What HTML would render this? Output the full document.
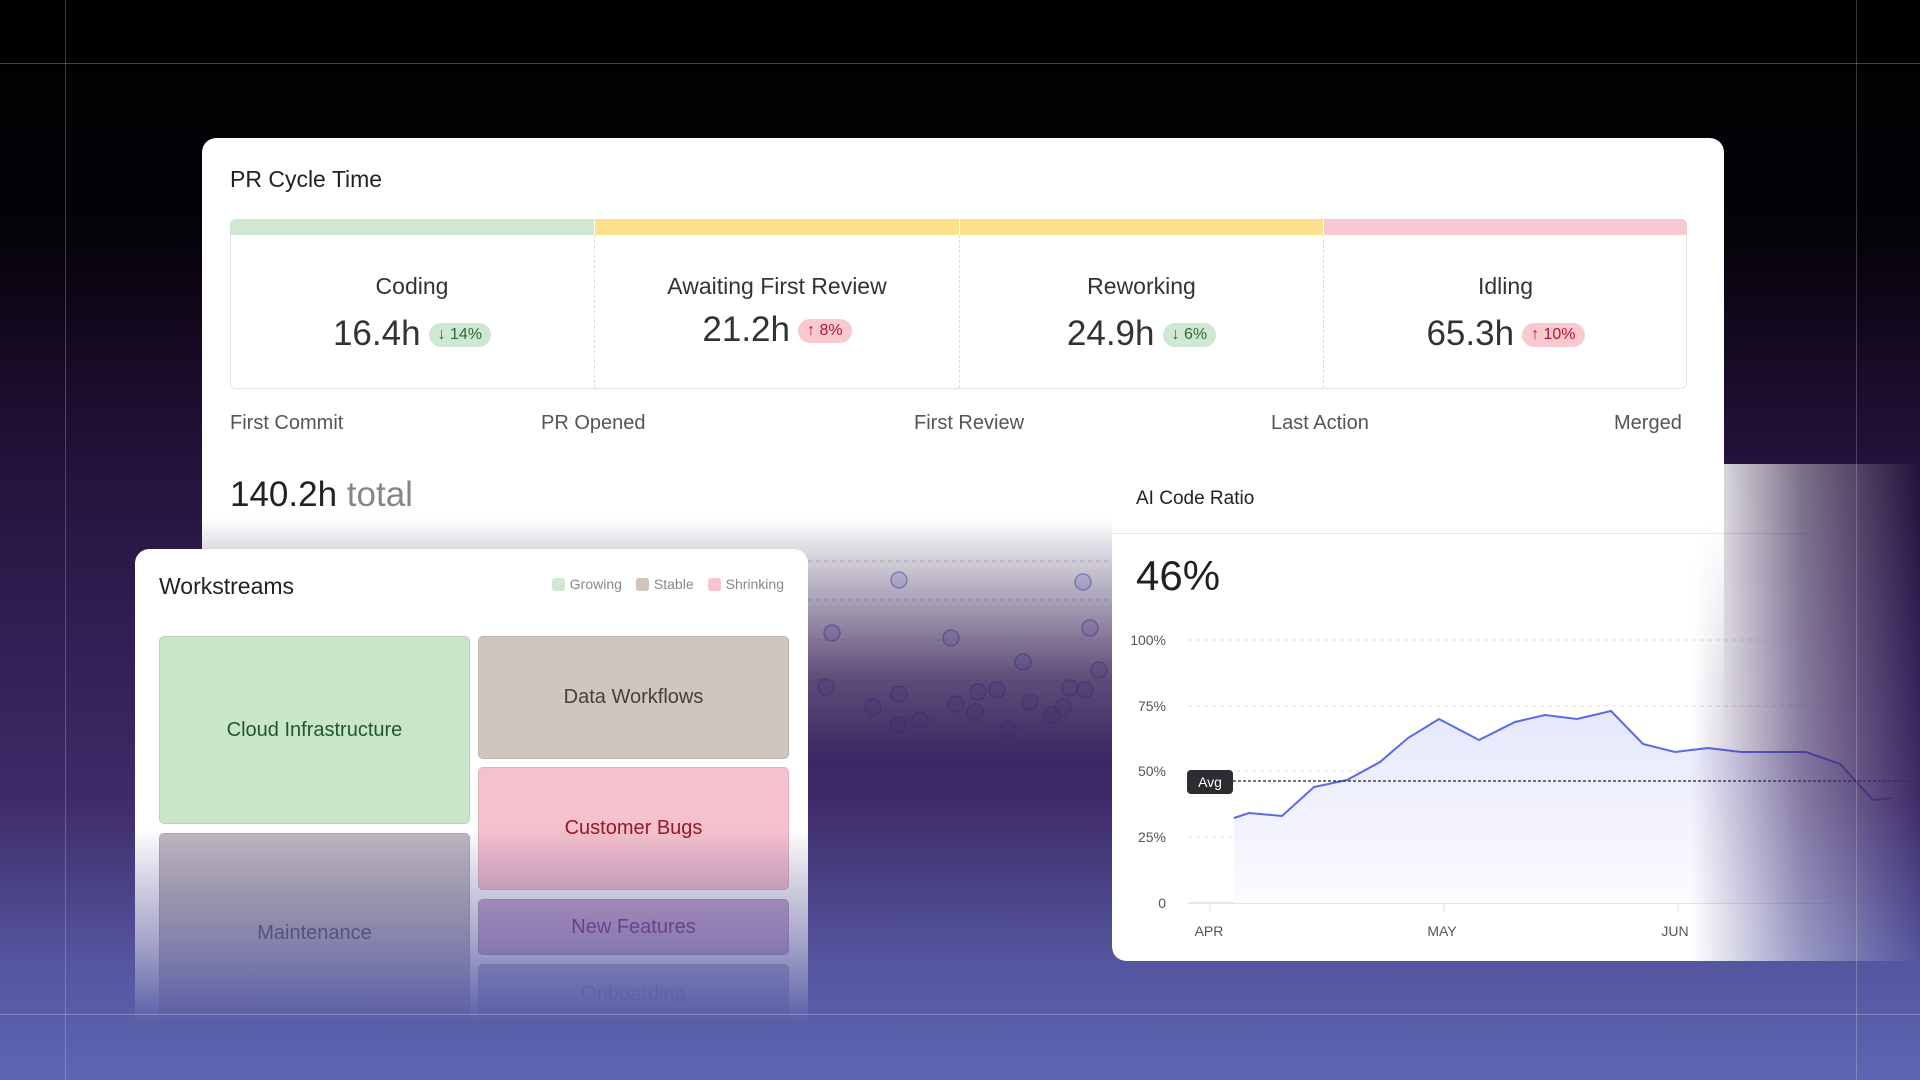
<!DOCTYPE html>
<html><head><meta charset="utf-8"><style>
*{margin:0;padding:0;box-sizing:border-box}
body{width:1920px;height:1080px;overflow:hidden;font-family:"Liberation Sans",sans-serif;position:relative;
background:linear-gradient(180deg,#000 0px,#050208 230px,#1f0f33 420px,#311d52 620px,#3f2b68 800px,#54559f 960px,#5d66b2 1080px)}
.abs{position:absolute}
.vl{position:absolute;top:0;width:1px;height:1080px;background:rgba(255,255,255,.22)}
.hl{position:absolute;left:0;height:1px;width:1920px;background:rgba(255,255,255,.25)}
.card{position:absolute;background:#fff;border-radius:14px}
#pr{left:202px;top:138px;width:1522px;height:720px;
-webkit-mask-image:linear-gradient(180deg,#000 0,#000 380px,rgba(0,0,0,.6) 460px,rgba(0,0,0,.2) 540px,transparent 620px);
mask-image:linear-gradient(180deg,#000 0,#000 380px,rgba(0,0,0,.6) 460px,rgba(0,0,0,.2) 540px,transparent 620px)}
.seg{position:absolute;top:81px;height:16px}
.stage{position:absolute;top:97px;height:153px;text-align:center;color:#333}
.stage .n{font-size:23px;margin-top:38px}
.stage .v{font-size:35px;margin-top:14px;color:#333}
.pill{display:inline-block;font-size:16px;padding:3px 9px;border-radius:14px;vertical-align:6px;margin-left:8px}
.g{background:#cfe8d2;color:#2d6b36}.r{background:#f9c9d1;color:#b0182e}
.ms{position:absolute;top:274px;font-size:20px;color:#555}
#ws{left:135px;top:549px;width:673px;height:480px;
-webkit-mask-image:linear-gradient(180deg,#000 0,#000 280px,rgba(0,0,0,.5) 390px,transparent 475px);
mask-image:linear-gradient(180deg,#000 0,#000 280px,rgba(0,0,0,.5) 390px,transparent 475px)}
.tm{position:absolute;border-radius:5px;display:flex;align-items:center;justify-content:center;font-size:20px;border:1px solid rgba(0,0,0,.08)}
.lg{display:inline-block;width:13px;height:13px;border-radius:3px;vertical-align:-2px;margin:0 5px 0 14px}
#ai{left:1112px;top:464px;width:808px;height:497px;border-radius:14px 0 0 14px;
-webkit-mask-image:linear-gradient(90deg,#000 0,#000 580px,rgba(0,0,0,.4) 690px,transparent 808px);
mask-image:linear-gradient(90deg,#000 0,#000 580px,rgba(0,0,0,.4) 690px,transparent 808px)}
</style></head><body>
<div class="vl" style="left:65px"></div><div class="vl" style="left:1856px"></div>
<div class="hl" style="top:63px"></div>

<div class="card" id="pr">
 <div class="abs" style="left:28px;top:28px;font-size:23px;color:#222">PR Cycle Time</div>
 <div class="abs" style="left:28px;top:81px;width:1457px;height:170px;border:1px solid #e3e3e3;border-radius:6px"></div>
 <div class="seg" style="left:28px;width:364px;background:#cfe8d2;border-radius:6px 0 0 0"></div>
 <div class="seg" style="left:393px;width:364px;background:#fde08e"></div>
 <div class="seg" style="left:758px;width:363px;background:#fde08e"></div>
 <div class="seg" style="left:1122px;width:363px;background:#f9c9d1;border-radius:0 6px 0 0"></div>
 <div class="abs" style="left:392px;top:97px;height:153px;border-left:1px dashed #ddd"></div>
 <div class="abs" style="left:757px;top:97px;height:153px;border-left:1px dashed #ddd"></div>
 <div class="abs" style="left:1121px;top:97px;height:153px;border-left:1px dashed #ddd"></div>
 <div class="stage" style="left:28px;width:364px"><div class="n">Coding</div><div class="v">16.4h<span class="pill g">↓ 14%</span></div></div>
 <div class="stage" style="left:393px;width:364px"><div class="n">Awaiting First Review</div><div class="v" style="margin-top:10px">21.2h<span class="pill r">↑ 8%</span></div></div>
 <div class="stage" style="left:758px;width:363px"><div class="n">Reworking</div><div class="v">24.9h<span class="pill g">↓ 6%</span></div></div>
 <div class="stage" style="left:1122px;width:363px"><div class="n">Idling</div><div class="v">65.3h<span class="pill r">↑ 10%</span></div></div>
 <div class="ms" style="left:28px">First Commit</div>
 <div class="ms" style="left:339px">PR Opened</div>
 <div class="ms" style="left:712px">First Review</div>
 <div class="ms" style="left:1069px">Last Action</div>
 <div class="ms" style="left:1412px">Merged</div>
 <div class="abs" style="left:28px;top:337px;font-size:35px;color:#222">140.2h <span style="color:#8a8580">total</span></div>
 <svg class="abs" style="left:0;top:0" width="1522" height="720" viewBox="202 138 1522 720">
  <g stroke="#ccc" stroke-dasharray="4 4"><line x1="808" y1="561" x2="1112" y2="561"/><line x1="808" y1="600" x2="1112" y2="600"/><line x1="808" y1="640" x2="1112" y2="640"/><line x1="808" y1="680" x2="1112" y2="680"/></g>
  <g fill="rgba(140,150,230,.25)" stroke="rgba(100,110,220,.6)" stroke-width="1.5">
   <circle cx="899" cy="580" r="8"/><circle cx="1083" cy="582" r="8"/><circle cx="832" cy="633" r="8"/><circle cx="951" cy="638" r="8"/><circle cx="1090" cy="628" r="8"/><circle cx="1023" cy="662" r="8"/><circle cx="1099" cy="670" r="8"/><circle cx="826" cy="687" r="8"/><circle cx="873" cy="707" r="8"/><circle cx="978" cy="692" r="8"/><circle cx="997" cy="690" r="8"/><circle cx="1030" cy="702" r="8"/><circle cx="1070" cy="688" r="8"/><circle cx="1063" cy="707" r="8"/><circle cx="899" cy="694" r="8"/><circle cx="920" cy="720" r="8"/><circle cx="975" cy="712" r="8"/><circle cx="1052" cy="715" r="8"/><circle cx="1008" cy="730" r="8"/><circle cx="898" cy="725" r="8"/><circle cx="956" cy="704" r="8"/><circle cx="1085" cy="690" r="8"/>
  </g>
 </svg>
</div>

<div class="card" id="ws">
 <div class="abs" style="left:24px;top:24px;font-size:23px;color:#222">Workstreams</div>
 <div class="abs" style="right:24px;top:27px;font-size:14px;color:#888"><span class="lg" style="background:#cfe8d2"></span>Growing<span class="lg" style="background:#cfc5bd"></span>Stable<span class="lg" style="background:#f9c4cf"></span>Shrinking</div>
 <div class="tm" style="left:24px;top:87px;width:311px;height:188px;background:#c9e6cb;color:#22572a">Cloud Infrastructure</div>
 <div class="tm" style="left:343px;top:87px;width:311px;height:123px;background:#cec6bf;color:#4a3f33">Data Workflows</div>
 <div class="tm" style="left:343px;top:218px;width:311px;height:123px;background:#f5c1cd;color:#9b1728">Customer Bugs</div>
 <div class="tm" style="left:24px;top:284px;width:311px;height:200px;background:#bdb9c0;color:#5a5670">Maintenance</div>
 <div class="tm" style="left:343px;top:350px;width:311px;height:56px;background:#c9a9cf;color:#7a3f7a">New Features</div>
 <div class="tm" style="left:343px;top:415px;width:311px;height:60px;background:#b7b9d6;color:#8a8ab5">Onboarding</div>
</div>

<div class="card" id="ai">
 <div class="abs" style="left:24px;top:24px;font-size:19px;color:#222">AI Code Ratio</div>
 <div class="abs" style="left:0;top:69px;width:700px;border-top:1px solid #e6e6e6"></div>
 <div class="abs" style="left:24px;top:88px;font-size:42px;color:#222">46%</div>
 <svg class="abs" style="left:0;top:0" width="808" height="497" viewBox="1112 464 808 497" font-family="Liberation Sans, sans-serif">
  <g stroke="#ddd" stroke-dasharray="4 4"><line x1="1188" y1="640" x2="1920" y2="640"/><line x1="1188" y1="706" x2="1920" y2="706"/><line x1="1188" y1="771" x2="1920" y2="771"/><line x1="1188" y1="837" x2="1920" y2="837"/></g>
  <line x1="1188" y1="903" x2="1920" y2="903" stroke="#e5e5ee" stroke-width="2"/>
  <g stroke="#ddd"><line x1="1210" y1="903" x2="1210" y2="912"/><line x1="1444" y1="903" x2="1444" y2="912"/><line x1="1678" y1="903" x2="1678" y2="912"/></g>
  <g font-size="14" fill="#555" text-anchor="end"><text x="1166" y="645">100%</text><text x="1166" y="711">75%</text><text x="1166" y="776">50%</text><text x="1166" y="842">25%</text><text x="1166" y="908">0</text></g>
  <g font-size="14" fill="#555" text-anchor="middle"><text x="1209" y="936">APR</text><text x="1442" y="936">MAY</text><text x="1675" y="936">JUN</text></g>
  <defs><linearGradient id="fa" x1="0" y1="0" x2="0" y2="1"><stop offset="0" stop-color="#e6e8fb"/><stop offset="1" stop-color="#fbfbff"/></linearGradient></defs>
  <path d="M1234 818 L1249 813 L1282 816 L1314 787 L1347 780 L1380 762 L1408 738 L1439 719 L1479 740 L1515 722 L1545 715 L1577 719 L1611 711 L1643 744 L1675 752 L1708 748 L1741 752 L1806 752 L1840 764 L1873 800 L1892 798 L1892 903 L1234 903Z" fill="url(#fa)"/>
  <polyline points="1234,818 1249,813 1282,816 1314,787 1347,780 1380,762 1408,738 1439,719 1479,740 1515,722 1545,715 1577,719 1611,711 1643,744 1675,752 1708,748 1741,752 1806,752 1840,764 1873,800 1892,798" fill="none" stroke="#5a6ae6" stroke-width="2"/>
  <line x1="1233" y1="781" x2="1920" y2="781" stroke="#222" stroke-dasharray="3 2" stroke-width="1.3"/>
  <rect x="1187" y="770" width="46" height="24" rx="4" fill="#2b2d31"/>
  <text x="1210" y="787" font-size="14" fill="#fff" text-anchor="middle">Avg</text>
 </svg>
</div>

<div class="hl" style="top:1014px"></div>
</body></html>
